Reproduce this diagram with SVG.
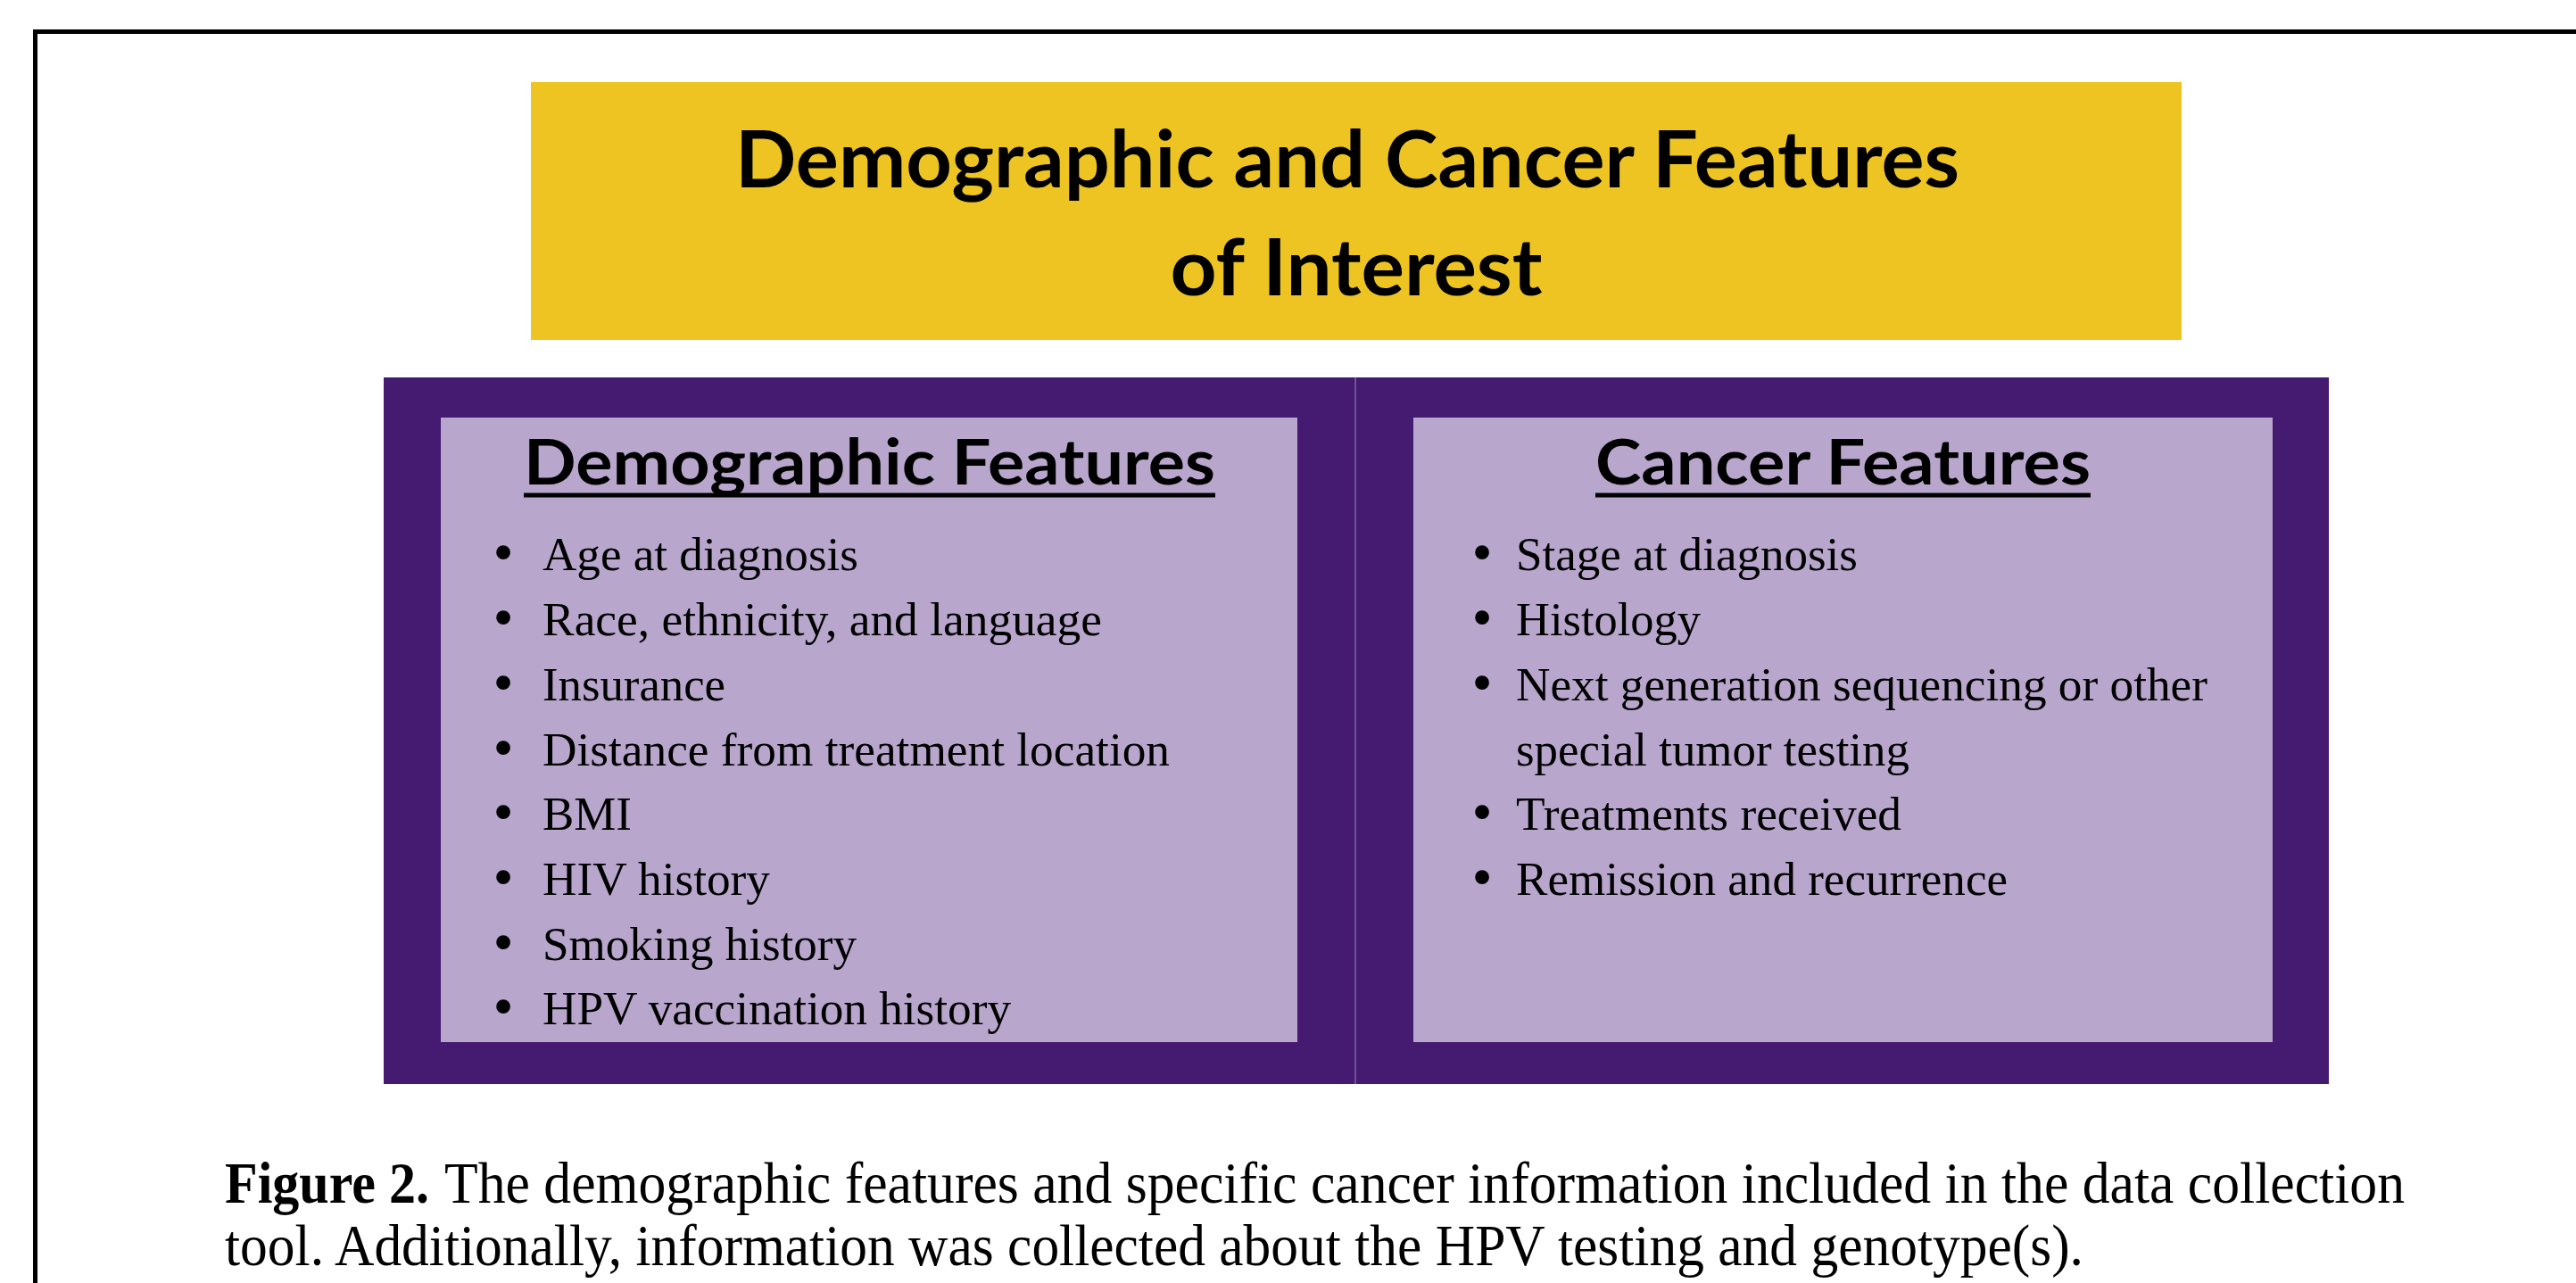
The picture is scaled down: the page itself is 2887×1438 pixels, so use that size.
<svg xmlns="http://www.w3.org/2000/svg" width="2887" height="1438" viewBox="0 0 2887 1438">
<style>
.title{font-family:Lato,"Liberation Sans",sans-serif;font-weight:700;font-size:88px;fill:#000;text-anchor:middle}
.head{font-family:Lato,"Liberation Sans",sans-serif;font-weight:700;font-size:70px;fill:#000}
.item{font-family:"Liberation Serif","Times New Roman",serif;font-size:52px;fill:#000}
.bul{font-family:"Liberation Serif","Times New Roman",serif;font-size:66px;fill:#000;text-anchor:middle}
.cap{font-family:"Liberation Serif","Times New Roman",serif;font-size:65px;fill:#000}
.panel{fill:#B8A6CC}
.ul{stroke:#000;stroke-width:5}
</style>
<rect width="2887" height="1438" fill="#fff"/>
<path d="M39.5,1438 V35.5 H2887" fill="none" stroke="#000" stroke-width="5"/>

<g id="title-node">
<rect x="595" y="92" width="1850" height="289" fill="#EDC421"/>
<text class="title" x="1510" y="210" textLength="1372" lengthAdjust="spacingAndGlyphs">Demographic and Cancer Features</text>
<text class="title" x="1520" y="331" textLength="417" lengthAdjust="spacingAndGlyphs">of Interest</text>
</g>

<g id="container">
<rect x="430" y="423" width="2180" height="792" fill="#451A71"/>
<line x1="1519" y1="423" x2="1519" y2="1215" stroke="#6E5196" stroke-width="2"/>
</g>

<g id="demographic-node">
<rect class="panel" x="494" y="468" width="960" height="700"/>
<text class="head" x="587" y="543" textLength="775" lengthAdjust="spacingAndGlyphs">Demographic Features</text>
<line class="ul" x1="587" y1="555" x2="1362" y2="555"/>
<text class="bul" x="564" y="641">•</text><text class="item" x="608" y="639" textLength="354" lengthAdjust="spacingAndGlyphs">Age at diagnosis</text>
<text class="bul" x="564" y="714">•</text><text class="item" x="608" y="712" textLength="627" lengthAdjust="spacingAndGlyphs">Race, ethnicity, and language</text>
<text class="bul" x="564" y="787">•</text><text class="item" x="608" y="785" textLength="205" lengthAdjust="spacingAndGlyphs">Insurance</text>
<text class="bul" x="564" y="860">•</text><text class="item" x="608" y="858" textLength="703" lengthAdjust="spacingAndGlyphs">Distance from treatment location</text>
<text class="bul" x="564" y="932">•</text><text class="item" x="608" y="930" textLength="100" lengthAdjust="spacingAndGlyphs">BMI</text>
<text class="bul" x="564" y="1005">•</text><text class="item" x="608" y="1003" textLength="255" lengthAdjust="spacingAndGlyphs">HIV history</text>
<text class="bul" x="564" y="1078">•</text><text class="item" x="608" y="1076" textLength="352" lengthAdjust="spacingAndGlyphs">Smoking history</text>
<text class="bul" x="564" y="1150">•</text><text class="item" x="608" y="1148" textLength="525" lengthAdjust="spacingAndGlyphs">HPV vaccination history</text>
</g>

<g id="cancer-node">
<rect class="panel" x="1584" y="468" width="963" height="700"/>
<text class="head" x="1788" y="543" textLength="555" lengthAdjust="spacingAndGlyphs">Cancer Features</text>
<line class="ul" x1="1788" y1="555" x2="2343" y2="555"/>
<text class="bul" x="1661" y="641">•</text><text class="item" x="1699" y="639" textLength="383" lengthAdjust="spacingAndGlyphs">Stage at diagnosis</text>
<text class="bul" x="1661" y="714">•</text><text class="item" x="1699" y="712" textLength="207" lengthAdjust="spacingAndGlyphs">Histology</text>
<text class="bul" x="1661" y="787">•</text><text class="item" x="1699" y="785" textLength="775" lengthAdjust="spacingAndGlyphs">Next generation sequencing or other</text>
<text class="item" x="1699" y="858" textLength="441" lengthAdjust="spacingAndGlyphs">special tumor testing</text>
<text class="bul" x="1661" y="932">•</text><text class="item" x="1699" y="930" textLength="432" lengthAdjust="spacingAndGlyphs">Treatments received</text>
<text class="bul" x="1661" y="1005">•</text><text class="item" x="1699" y="1003" textLength="551" lengthAdjust="spacingAndGlyphs">Remission and recurrence</text>
</g>

<g id="connectors"></g>

<g id="caption">
<text class="cap" x="252" y="1348" font-weight="700" textLength="229" lengthAdjust="spacingAndGlyphs">Figure 2.</text>
<text class="cap" x="498" y="1348" textLength="2197" lengthAdjust="spacingAndGlyphs">The demographic features and specific cancer information included in the data collection</text>
<text class="cap" x="252" y="1418" textLength="2083" lengthAdjust="spacingAndGlyphs">tool. Additionally, information was collected about the HPV testing and genotype(s).</text>
</g>
</svg>
